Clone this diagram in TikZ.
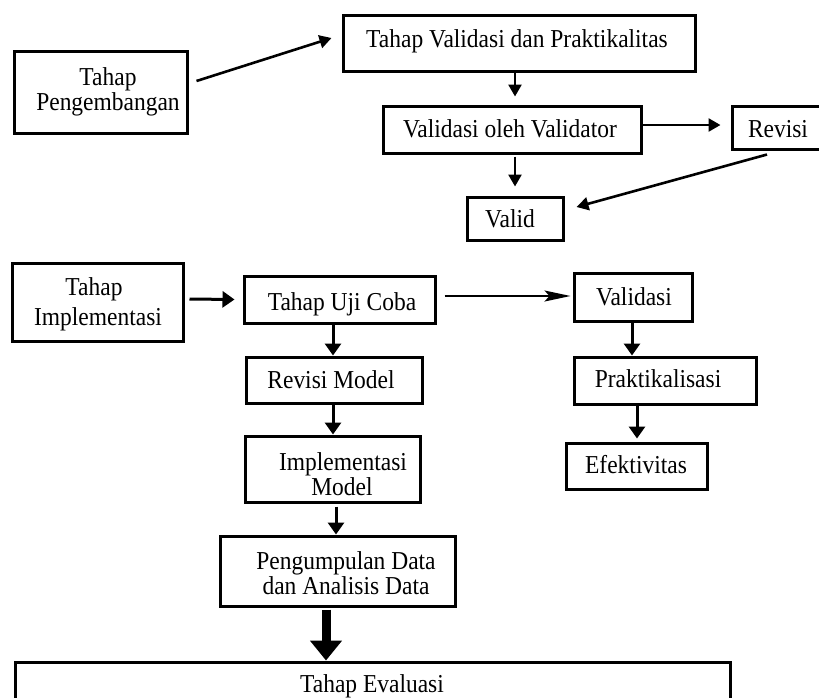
\documentclass[tikz,border=0pt]{standalone}
\usepackage{fontspec}
\setmainfont{Liberation Serif}[FakeStretch=0.91]
\usetikzlibrary{arrows.meta}
\begin{document}
\begin{tikzpicture}[x=1pt,y=-1pt,
  bx/.style 2 args={draw,line width=3pt,rectangle,inner sep=0pt,minimum width=#1,minimum height=#2},
  txt/.style={inner sep=0pt,anchor=base,font=\fontsize{25.8}{30}\selectfont},
  arr/.style={line width=2.6pt,-{Triangle[length=12pt,width=13pt]}},
  arrb/.style={line width=3pt,-{Triangle[length=12pt,width=16pt]}},
  thin/.style={line width=1.6pt,-{Stealth[length=26pt,width=11pt,inset=5pt]}},
  big/.style={line width=9pt,-{Triangle[length=20pt,width=31pt]}}]
\useasboundingbox (0,0) rectangle (819,697);
% boxes
\node[bx={173}{82}] (peng) at (100.5,92) {};
\node[bx={352}{56}] (tvdp) at (519,43) {};
\node[bx={258}{47}] (vov) at (512,129.5) {};
\node[bx={118}{43}] (rev) at (791,127.5) {};
\node[bx={96}{43}] (valid) at (515,218.5) {};
\node[bx={171}{78}] (impl) at (97.5,302) {};
\node[bx={191}{47}] (uji) at (339.5,299.5) {};
\node[bx={176}{46}] (revm) at (334,380) {};
\node[bx={175}{66}] (implm) at (332.5,469) {};
\node[bx={235}{70}] (peng2) at (337.5,571) {};
\node[bx={715}{58}] (eval) at (372.5,691) {};
\node[bx={118}{48}] (vali) at (633,297) {};
\node[bx={182}{47}] (prak) at (665,380.5) {};
\node[bx={141}{46}] (efek) at (636.5,466) {};
% texts
\node[txt] (peng-t1) at (108,85) {Tahap};
\node[txt] (peng-t2) at (108,110) {Pengembangan};
\node[txt] (tvdp-t) at (517,47) {Tahap Validasi dan Praktikalitas};
\node[txt] (vov-t) at (510,137) {Validasi oleh Validator};
\node[txt] (rev-t) at (778,137) {Revisi};
\node[txt] (valid-t) at (510,227) {Valid};
\node[txt] (impl-t1) at (94,295) {Tahap};
\node[txt] (impl-t2) at (98,325) {Implementasi};
\node[txt] (uji-t) at (342,310) {Tahap Uji Coba};
\node[txt] (revm-t) at (331,388) {Revisi Model};
\node[txt] (implm-t1) at (343,470) {Implementasi};
\node[txt] (implm-t2) at (342,495) {Model};
\node[txt] (peng2-t1) at (346,569) {Pengumpulan Data};
\node[txt] (peng2-t2) at (346,594) {dan Analisis Data};
\node[txt] (eval-t) at (372,692) {Tahap Evaluasi};
\node[txt] (vali-t) at (634,305) {Validasi};
\node[txt] (prak-t) at (658,387) {Praktikalisasi};
\node[txt] (efek-t) at (636,473) {Efektivitas};
% connectors
\draw[arr] ([xshift=8pt,yshift=11pt]peng.east) -- ([xshift=-10pt,yshift=5pt]tvdp.west);
\draw[arr] ([xshift=-4pt]tvdp.south) -- ([xshift=3pt,yshift=8pt]vov.north);
\draw[arr] ([yshift=4.5pt]vov.east) -- ([xshift=-10pt,yshift=2.5pt]rev.west);
\draw[arr] ([xshift=3pt,yshift=-2pt]vov.south) -- ([yshift=9pt]valid.north);
\draw[arr] ([xshift=-24pt,yshift=-4pt]rev.south) -- ([xshift=12pt,yshift=11.5pt]valid.east);
\draw[arrb] ([xshift=5pt,yshift=3pt]impl.east) -- ([xshift=-8pt]uji.west);
\draw[thin] ([xshift=8pt,yshift=3.5pt]uji.east) -- ([xshift=-2pt,yshift=1pt]vali.west);
\draw[arrb] ([xshift=-6.5pt]uji.south) -- ([xshift=-1pt]revm.north);
\draw[arrb] ([xshift=-1pt]revm.south) -- ([xshift=0.5pt]implm.north);
\draw[arrb] ([xshift=3.5pt,yshift=-3pt]implm.south) -- ([xshift=-1.5pt]peng2.north);
\draw[big] ([xshift=-11.5pt,yshift=-2pt]peng2.south) -- ([xshift=-46.5pt]eval.north);
\draw[arrb] ([xshift=-1pt]vali.south) -- ([xshift=-33pt]prak.north);
\draw[arrb] ([xshift=-28pt]prak.south) -- ([xshift=0.5pt,yshift=3pt]efek.north);
\end{tikzpicture}
\end{document}
